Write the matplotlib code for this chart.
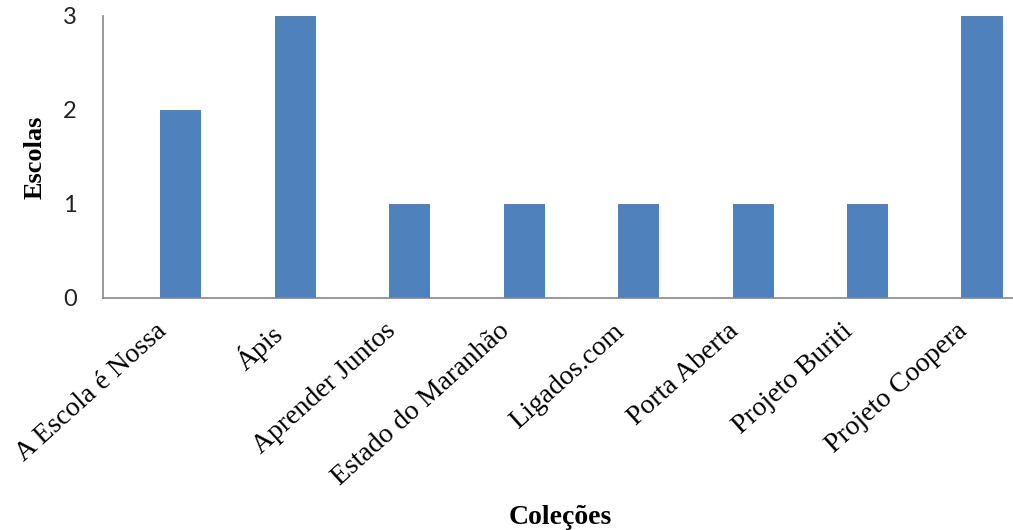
import matplotlib
matplotlib.use("Agg")
import matplotlib.pyplot as plt
from matplotlib.transforms import ScaledTranslation

colecoes = ["A Escola é Nossa", "Ápis", "Aprender Juntos", "Estado do Maranhão",
            "Ligados.com", "Porta Aberta", "Projeto Buriti", "Projeto Coopera"]
escolas = [2, 3, 1, 1, 1, 1, 1, 3]
y_ticks = [0, 1, 2, 3]

W, H = 1013, 530
fig = plt.figure(figsize=(W / 100, H / 100), dpi=100)
ax = fig.add_axes([103 / W, (H - 298) / H, (W - 103) / W, (298 - 16) / H])

x = list(range(len(colecoes)))
ax.bar(x, escolas, width=0.36, color="#4F81BD", zorder=2)

ax.set_xlim(-0.68, 7.27)
ax.set_ylim(0, 3)
ax.set_yticks(y_ticks)
ax.set_yticklabels([str(v) for v in y_ticks], fontfamily="Lato", fontsize=17, color="#222222")
ax.tick_params(axis="y", length=0, pad=19)

ax.set_xticks(x)
ax.set_xticklabels(colecoes, rotation=42, ha="right", rotation_mode="anchor",
                   fontfamily="Liberation Serif", fontsize=20)
ax.tick_params(axis="x", length=0, pad=12)
shift = ScaledTranslation(-26 / 100, -4 / 100, fig.dpi_scale_trans)
for lbl in ax.get_xticklabels():
    lbl.set_transform(lbl.get_transform() + shift)

for side in ("top", "right"):
    ax.spines[side].set_visible(False)
for side in ("left", "bottom"):
    ax.spines[side].set_color("#868686")
    ax.spines[side].set_linewidth(1.2)
ax.spines["bottom"].set_zorder(3)

fig.text(35 / W, 1 - 157 / H, "Escolas", rotation=90, ha="center", va="center",
         fontfamily="Liberation Serif", fontweight="bold", fontsize=19)
fig.text(560 / W, 1 - 517 / H, "Coleções", ha="center", va="center",
         fontfamily="Liberation Serif", fontweight="bold", fontsize=20)

fig.savefig("out.png", dpi=100)
